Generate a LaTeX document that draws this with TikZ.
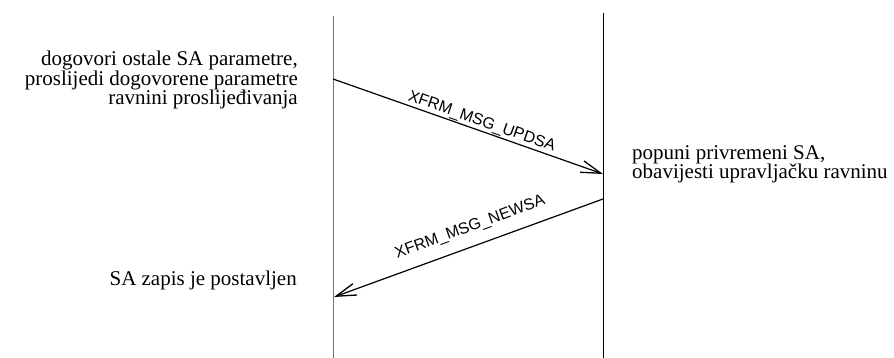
\documentclass[tikz,border=0pt]{standalone}
\usepackage{fontspec}
\setmainfont{Liberation Serif}
\newfontfamily\msgfont{Liberation Sans}
\usetikzlibrary{arrows.meta}
\tikzset{
	lifeline/.style={line width=1pt},
	msg/.style={line width=1.2pt,-{Straight Barb[length=20pt,width=12pt,line width=1.3pt]}},
	msglabel/.style={font=\msgfont\fontsize{16}{16}\selectfont,sloped,above},
	note/.style={font=\fontsize{21}{19.5}\selectfont,inner sep=0pt}
}
\begin{document}
\begin{tikzpicture}[x=1pt,y=-1pt]
		\useasboundingbox (0,0) rectangle (894,358);
		\draw[lifeline,black!55] (333,16) -- (333,358);
		\draw[lifeline,black] (603,13) -- (603,358);

		\coordinate (upd-from) at (333,79);
		\coordinate (upd-to) at (603,174);
		\coordinate (new-from) at (603,199);
		\coordinate (new-to) at (334,297);

		\draw[msg] (upd-from) -- (upd-to) node[msglabel,pos=.54,inner sep=1pt] (upd) {XFRM\_MSG\_UPDSA};
		\draw[msg] (new-from) -- (new-to) node[msglabel,pos=.47,inner sep=11pt] (new) {XFRM\_MSG\_NEWSA};

		% base anchor sits on the last line
		\node[note,align=right,anchor=base east] (dogovor) at (298,105) {dogovori ostale SA parametre,\\proslijedi dogovorene parametre\hspace*{11pt}\\ravnini proslijeđivanja};
		\node[note,align=left,anchor=base west] (popuni) at (632,179) {popuni privremeni SA,\\obavijesti upravljačku ravninu};
		\node[note,anchor=base east] (zapis) at (297,285) {SA zapis je postavljen};
	\end{tikzpicture}
\end{document}
